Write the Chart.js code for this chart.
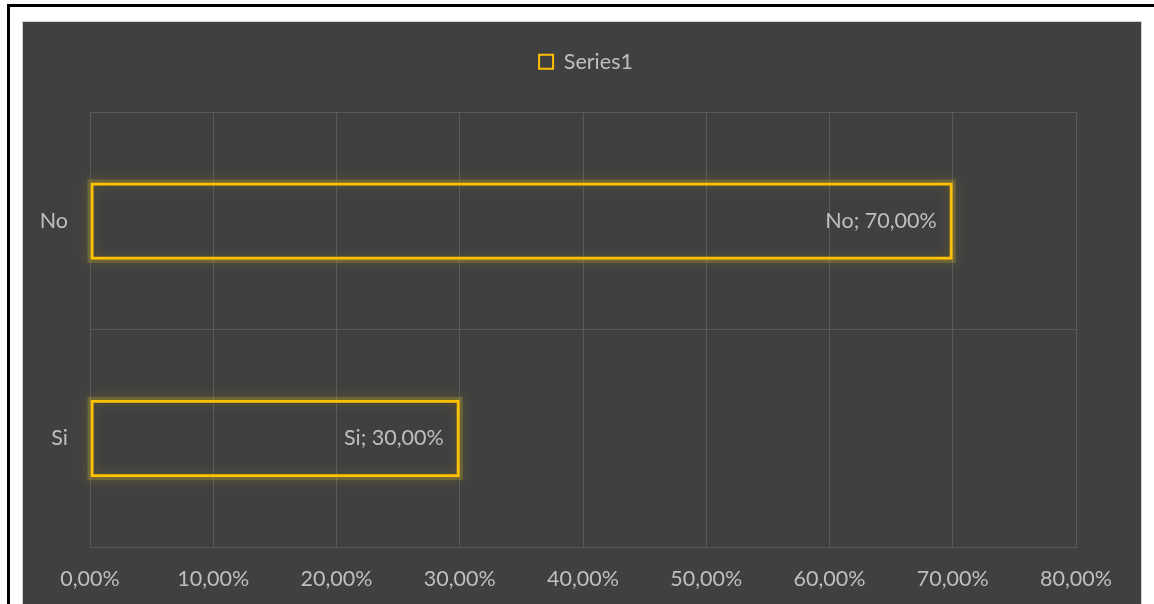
<!DOCTYPE html>
<html>
<head>
<meta charset="utf-8">
<script src="https://cdn.jsdelivr.net/npm/chart.js@4"></script>
<style>
  html, body { margin:0; padding:0; background:#fff; width:1154px; height:604px; overflow:hidden; }
  #frame { position:absolute; left:7px; top:4px; width:1160px; height:620px; border-top:3px solid #000; border-left:3px solid #000; box-sizing:border-box; }
  #panel { position:absolute; left:22px; top:21px; width:1120px; height:600px; background:#404040; border:1px solid #d0d0d0; box-sizing:border-box; }
  #wrap { position:absolute; left:0; top:0; width:1154px; height:604px; }
</style>
</head>
<body>
<div id="frame"></div>
<div id="panel"></div>
<div id="wrap"><canvas id="c" width="1154" height="604"></canvas></div>
<script>
const categories = ['No', 'Si'];
const seriesName = 'Series1';
const values = [0.70, 0.30];
const xTickValues = [0, 0.1, 0.2, 0.3, 0.4, 0.5, 0.6, 0.7, 0.8];

const FONT = 'Lato, "Open Sans", sans-serif';
const FSIZE = 21.5;
const TEXT = '#bfbfbf';
const GRID = '#5a5a5a';
const GOLD = '#FFC000';

function pct(v) { return (v * 100).toFixed(2).replace('.', ',') + '%'; }

const glowPlugin = {
  id: 'glow',
  beforeDatasetsDraw(chart) {
    const ctx = chart.ctx;
    chart.getDatasetMeta(0).data.forEach(bar => {
      const left = Math.min(bar.x, bar.base), right = Math.max(bar.x, bar.base);
      const top = bar.y - bar.height / 2;
      ctx.save();
      ctx.shadowColor = 'rgba(255,215,0,0.5)';
      ctx.shadowBlur = 12;
      ctx.strokeStyle = 'rgba(190,170,40,0.3)';
      ctx.lineWidth = 6;
      ctx.strokeRect(left, top, right - left, bar.height);
      ctx.restore();
    });
  }
};

const labelPlugin = {
  id: 'barLabels',
  afterDatasetsDraw(chart) {
    const ctx = chart.ctx;
    chart.getDatasetMeta(0).data.forEach((bar, i) => {
      ctx.save();
      ctx.font = FSIZE + 'px ' + FONT;
      ctx.fillStyle = TEXT;
      ctx.textAlign = 'right';
      ctx.textBaseline = 'middle';
      ctx.fillText(categories[i] + '; ' + pct(values[i]), bar.x - 16, bar.y);
      ctx.restore();
    });
  }
};

const legendShift = {
  id: 'legendShift',
  afterLayout(chart) {
    if (chart.legend) { chart.legend.left += 37; chart.legend.right += 37; }
  }
};

new Chart(document.getElementById('c'), {
  type: 'bar',
  data: {
    labels: categories,
    datasets: [{
      label: seriesName,
      data: values,
      backgroundColor: 'rgba(0,0,0,0)',
      borderColor: GOLD,
      borderWidth: 3,
      borderSkipped: false,
      categoryPercentage: 1,
      barPercentage: 0.356
    }]
  },
  options: {
    indexAxis: 'y',
    responsive: false,
    animation: false,
    devicePixelRatio: 1,
    layout: { padding: { left: 22, right: 78, top: 8, bottom: 13 } },
    plugins: {
      legend: {
        display: true,
        position: 'top',
        labels: {
          color: TEXT,
          font: { family: FONT, size: FSIZE },
          boxWidth: 14, boxHeight: 14,
          padding: 43,
          generateLabels(chart) {
            return [{ text: seriesName, fillStyle: 'rgba(0,0,0,0)', strokeStyle: GOLD, lineWidth: 2, fontColor: TEXT, datasetIndex: 0 }];
          }
        }
      },
      title: {
        display: true,
        text: ' ',
        position: 'top',
        weight: 500,
        padding: 0,
        font: { size: 30, lineHeight: 1 }
      },
      tooltip: { enabled: false }
    },
    scales: {
      x: {
        min: 0, max: 0.8,
        afterBuildTicks(scale) { scale.ticks = xTickValues.map(v => ({ value: v })); },
        afterFit(scale) { scale.height -= 20; },
        grid: { color: GRID, lineWidth: 1, drawTicks: false },
        border: { display: true, color: GRID },
        ticks: { color: TEXT, font: { family: FONT, size: FSIZE }, padding: 19, callback: v => pct(v), maxRotation: 0 }
      },
      y: {
        offset: true,
        grid: { offset: true, color: GRID, lineWidth: 1, drawTicks: false },
        border: { display: true, color: GRID },
        afterFit(scale) { scale.width = 68; },
        ticks: { color: TEXT, font: { family: FONT, size: FSIZE }, padding: 22 }
      }
    }
  },
  plugins: [glowPlugin, labelPlugin, legendShift]
});
</script>
</body>
</html>
